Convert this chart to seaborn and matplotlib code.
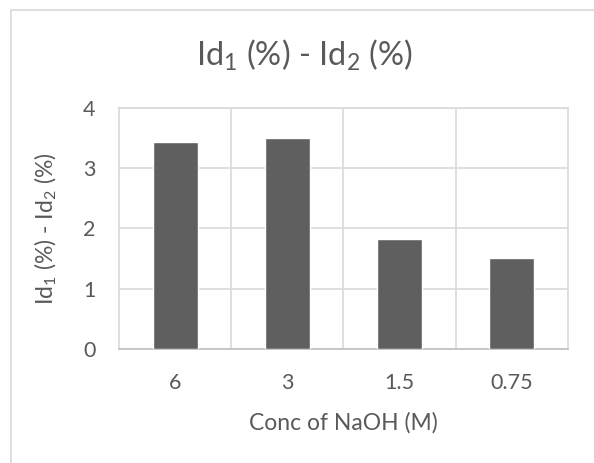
import matplotlib
matplotlib.use("Agg")
import matplotlib.pyplot as plt
import seaborn as sns
import pandas as pd
from matplotlib.patches import Rectangle

categories = ["6", "3", "1.5", "0.75"]
values = [3.43, 3.50, 1.82, 1.50]
yticks = [0, 1, 2, 3, 4]

sns.set_theme(style="white")
FONT = "Lato"
plt.rcParams["font.family"] = [FONT, "DejaVu Sans"]
plt.rcParams["mathtext.fontset"] = "custom"
plt.rcParams["mathtext.rm"] = FONT
plt.rcParams["mathtext.it"] = FONT
plt.rcParams["mathtext.default"] = "regular"

TEXT = "#595959"
GRID = "#d9d9d9"

df = pd.DataFrame({"conc": categories, "val": values})

W, H = 594, 463
fig = plt.figure(figsize=(W / 100, H / 100), dpi=100)
ax = fig.add_axes([119 / W, 1 - 349 / H, (567.7 - 119) / W, (349 - 107.5) / H])

sns.barplot(data=df, x="conc", y="val", order=categories, color="#5f5f5f",
            width=0.4, saturation=1, ax=ax, zorder=3)

ax.set_xlim(-0.5, len(categories) - 0.5)
ax.set_ylim(0, 4)
ax.set_yticks(yticks)
ax.set_yticklabels([str(t) for t in yticks])
ax.set_xticks(range(len(categories)))
ax.set_xticklabels(categories)
ax.set_xticks([i + 0.5 for i in range(len(categories) - 1)], minor=True)

ax.grid(True, axis="y", which="major", color=GRID, linewidth=1.2, zorder=0)
ax.grid(True, axis="x", which="minor", color=GRID, linewidth=1.2, zorder=0)
ax.grid(False, axis="x", which="major")
ax.set_axisbelow(True)

for s in ["left", "right", "top"]:
    ax.spines[s].set_visible(True)
    ax.spines[s].set_color(GRID)
    ax.spines[s].set_linewidth(1.2)
ax.spines["bottom"].set_color("#bfbfbf")
ax.spines["bottom"].set_linewidth(1.2)

ax.tick_params(axis="both", which="both", length=0, colors=TEXT, labelsize=15.5)
ax.tick_params(axis="y", pad=17)
ax.tick_params(axis="x", pad=17)

ax.set_xlabel("Conc of NaOH (M)", fontsize=16.5, color=TEXT, labelpad=14)
ax.set_ylabel(r"Id$_1$ (%) - Id$_2$ (%)", fontsize=16.5, color=TEXT, labelpad=17)

fig.text(304 / W, 1 - 55 / H, r"Id$_1$ (%) - Id$_2$ (%)", fontsize=23.5, color=TEXT,
         ha="center", va="center")

fig.add_artist(Rectangle((10.5 / W, -0.1), 1.2, 1.1 - 9.5 / H + 0.0,
                         transform=fig.transFigure, fill=False,
                         edgecolor=GRID, linewidth=1.2))

fig.savefig("out.png", dpi=100)
